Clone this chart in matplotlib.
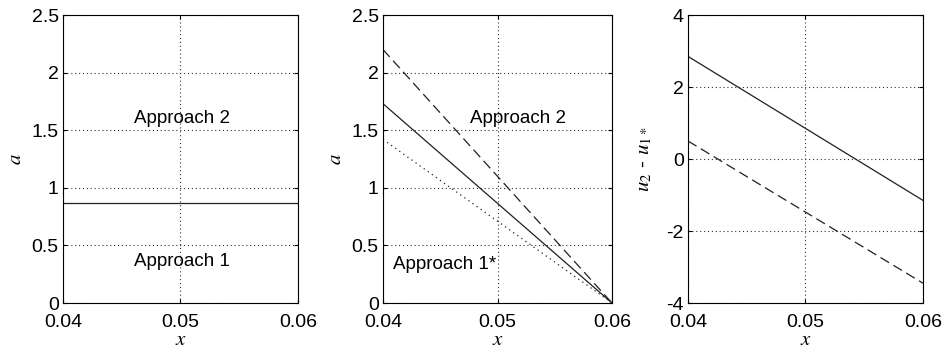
import numpy as np
import matplotlib.pyplot as plt

plt.rcParams['font.family'] = ['Liberation Sans', 'DejaVu Sans']
plt.rcParams['mathtext.fontset'] = 'stix'

# data
x_ends = [0.04, 0.06]
a_const = [0.87, 0.87]
a_solid = [1.73, 0.0]
a_dashed = [2.2, 0.0]
a_dotted = [1.42, 0.0]
du_solid = [2.85, -1.15]
du_dashed = [0.5, -3.45]

x_ticks = [0.04, 0.05, 0.06]
x_tick_labels = ['0.04', '0.05', '0.06']
a_ticks = [0, 0.5, 1, 1.5, 2, 2.5]
a_tick_labels = ['0', '0.5', '1', '1.5', '2', '2.5']
du_ticks = [-4, -2, 0, 2, 4]
du_tick_labels = ['-4', '-2', '0', '2', '4']

fig = plt.figure(figsize=(9.45, 3.54), dpi=100)
W, H = 945.0, 354.0
boxes = [(63, 298), (383, 612), (688, 923)]
top, bottom = 15, 303
axes = []
for l, r in boxes:
    ax = fig.add_axes([l / W, 1 - bottom / H, (r - l) / W, (bottom - top) / H])
    axes.append(ax)


def style(ax, yticks, ylabels, ylim):
    ax.set_xlim(0.04, 0.06)
    ax.set_ylim(*ylim)
    ax.set_xticks(x_ticks)
    ax.set_xticklabels(x_tick_labels)
    ax.set_yticks(yticks)
    ax.set_yticklabels(ylabels)
    ax.tick_params(direction='in', length=3, labelsize=14, top=True, right=True)
    ax.tick_params(axis='x', pad=8)
    ax.tick_params(axis='y', pad=3)
    ax.grid(True, color='#303030', linestyle=(0, (1, 2.5)), linewidth=0.8)
    for s in ax.spines.values():
        s.set_linewidth(0.8)
    ax.set_xlabel('$x$', fontsize=15, labelpad=-1)


lc = '#202020'
ax1, ax2, ax3 = axes
ax1.plot(x_ends, a_const, color=lc, linewidth=0.9)
style(ax1, a_ticks, a_tick_labels, (0, 2.5))
ax1.set_ylabel('$a$', fontsize=15, labelpad=5)
ax1.text(0.0501, 1.6, 'Approach 2', fontsize=13.5, ha='center', va='center')
ax1.text(0.0501, 0.36, 'Approach 1', fontsize=13.5, ha='center', va='center')

ax2.plot(x_ends, a_solid, color=lc, linewidth=0.9)
ax2.plot(x_ends, a_dashed, color=lc, linewidth=0.9, linestyle=(0, (8, 4)))
ax2.plot(x_ends, a_dotted, color=lc, linewidth=0.9, linestyle=(0, (1, 3)))
style(ax2, a_ticks, a_tick_labels, (0, 2.5))
ax2.set_ylabel('$a$', fontsize=15, labelpad=5)
ax2.text(0.0518, 1.6, 'Approach 2', fontsize=13.5, ha='center', va='center')
ax2.text(0.0454, 0.33, 'Approach 1*', fontsize=13.5, ha='center', va='center')

ax3.plot(x_ends, du_solid, color=lc, linewidth=0.9)
ax3.plot(x_ends, du_dashed, color=lc, linewidth=0.9, linestyle=(0, (8, 4)))
style(ax3, du_ticks, du_tick_labels, (-4, 4))
ax3.set_ylabel('$u_2$ - $u_{1*}$', fontsize=15, labelpad=9)

fig.savefig('out.png', dpi=100)
